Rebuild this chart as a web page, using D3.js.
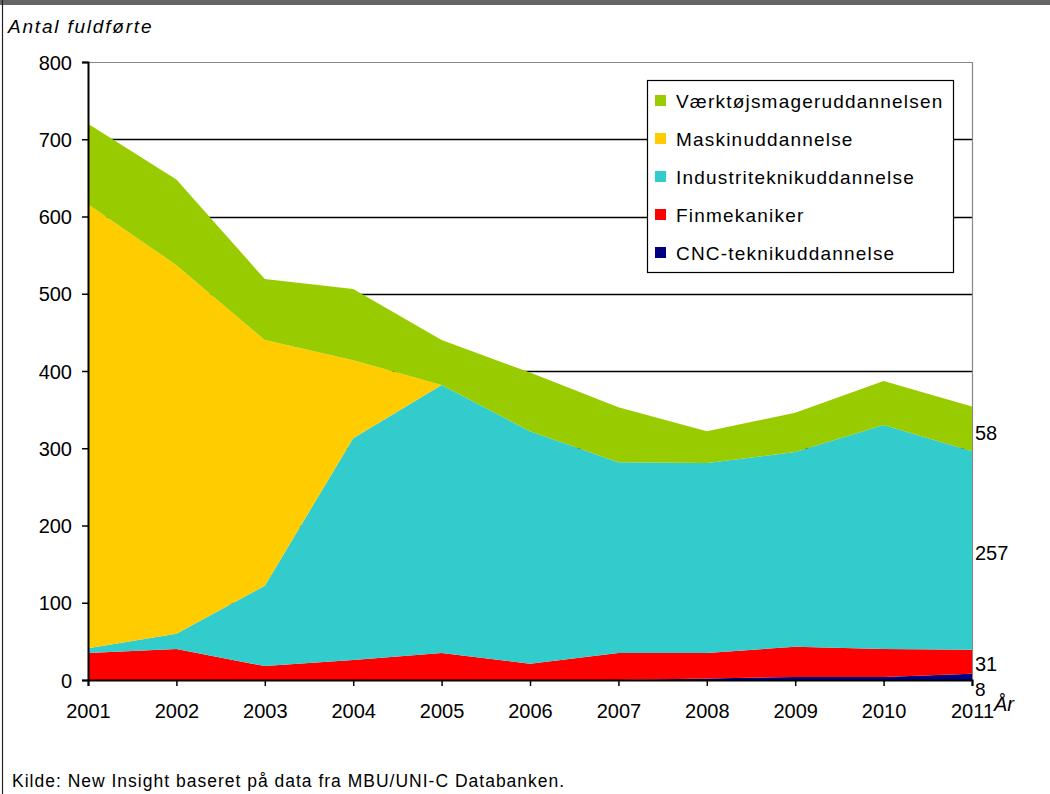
<!DOCTYPE html>
<html><head><meta charset="utf-8">
<script src="https://cdn.jsdelivr.net/npm/d3@7"></script>
<style>body{margin:0;background:#fff;}svg{display:block;font-family:"Liberation Sans",Arial,sans-serif;}</style>
</head><body>
<svg id="c" width="1050" height="794"></svg>
<script>
const years = [2001,2002,2003,2004,2005,2006,2007,2008,2009,2010,2011];
const cnc        = [0,0,0,0,0,0,0,2,4,4,8];
const finmek     = [35,40,18,26,35,21,35,33,39,36,31];
const industri   = [6,20,104,287,347,301,247,246,252,290,257];
const maskin     = [575,477,318,101,0,0,0,0,0,0,0];
const vaerktoej  = [104,111,79,92,58,76,71,41,51,57,58];
const seriesNames = ["CNC-teknikuddannelse","Finmekaniker","Industriteknikuddannelse","Maskinuddannelse","Værktøjsmageruddannelsen"];
const seriesColors = ["#000080","#ff0000","#33cccc","#ffcc00","#99cc00"];
const yTicks = [0,100,200,300,400,500,600,700,800];
const endLabels = [["8",0],["31",1],["257",2],["58",4]];

const svg = d3.select("#c");
const W=1050,H=794;
// frame
svg.append("rect").attr("x",0).attr("y",0).attr("width",W).attr("height",5).attr("fill","#666");
svg.append("line").attr("x1",2.5).attr("x2",2.5).attr("y1",0).attr("y2",H).attr("stroke","#222").attr("stroke-width",1.2);

const x = d3.scaleLinear().domain([2001,2011]).range([88,972]);
const y = d3.scaleLinear().domain([0,800]).range([680,62]);

const table = years.map((yr,i)=>({year:yr, s0:cnc[i], s1:finmek[i], s2:industri[i], s3:maskin[i], s4:vaerktoej[i]}));
const stack = d3.stack().keys(["s0","s1","s2","s3","s4"]);
const stacked = stack(table);

// gridlines
svg.append("g").selectAll("line").data(yTicks.filter(t=>t>0 && t<800)).join("line")
  .attr("x1",88).attr("x2",972).attr("y1",d=>Math.round(y(d))+0.5).attr("y2",d=>Math.round(y(d))+0.5)
  .attr("stroke","#000").attr("stroke-width",1.3);
// plot border top/right gray
svg.append("path").attr("d",`M88,${y(800)+0.5}H972.5V680`).attr("fill","none").attr("stroke","#888").attr("stroke-width",1.2);

const area = d3.area().x(d=>x(d.data.year)).y0(d=>y(d[0])).y1(d=>y(d[1]));
svg.append("g").selectAll("path").data(stacked).join("path")
  .attr("d",area).attr("fill",(d,i)=>seriesColors[i]);

// axes
const yAxis = svg.append("g").attr("transform","translate(88,0)")
  .call(d3.axisLeft(y).tickValues(yTicks).tickSize(6).tickPadding(10).tickFormat(d3.format("d")));
const xAxis = svg.append("g").attr("transform","translate(0,680)")
  .call(d3.axisBottom(x).tickValues(years).tickSize(6).tickPadding(18).tickFormat(d3.format("d")));
[yAxis,xAxis].forEach(a=>{
  a.select(".domain").attr("stroke","#000").attr("stroke-width",2);
  a.selectAll(".tick line").attr("stroke","#000").attr("stroke-width",1.5);
  a.selectAll("text").attr("fill","#000").style("font-size","20px").style("font-family","'Liberation Sans',Arial,sans-serif");
});
yAxis.selectAll("text").attr("dy","0.36em");
xAxis.selectAll("text").attr("dy","0.71em");

// axis titles
svg.append("text").attr("x",8).attr("y",33).text("Antal fuldførte")
  .style("font-size","19px").style("font-style","italic").style("letter-spacing","1.8px");
svg.append("text").attr("x",994).attr("y",711).text("År")
  .style("font-size","20px").style("font-style","italic");

// end labels
const last = stacked.map(s=>s[s.length-1]);
const endOff = [19,9,9,0,11];
svg.append("g").selectAll("text").data(endLabels).join("text")
  .attr("x",975)
  .attr("y",d=>{
    const s=last[d[1]]; const m=(s[0]+s[1])/2;
    return y(m)+endOff[d[1]];
  })
  .text(d=>d[0]).style("font-size",d=>d[1]===0?"19px":"20px");

// legend
const lg = svg.append("g");
lg.append("rect").attr("x",647.5).attr("y",80.5).attr("width",306).attr("height",192).attr("fill","#fff").attr("stroke","#000").attr("stroke-width",1.2);
const legOrder = [4,3,2,1,0];
legOrder.forEach((si,k)=>{
  const cy = 101 + k*38;
  lg.append("rect").attr("x",655).attr("y",cy-6).attr("width",11).attr("height",11).attr("fill",seriesColors[si]);
  lg.append("text").attr("x",676).attr("y",cy+7).text(seriesNames[si])
    .style("font-size","19px").style("letter-spacing","1.2px");
});

// source
svg.append("text").attr("x",12).attr("y",787).text("Kilde: New Insight baseret på data fra MBU/UNI-C Databanken.")
  .style("font-size","17.5px").style("letter-spacing","1px");
</script>
</body></html>
